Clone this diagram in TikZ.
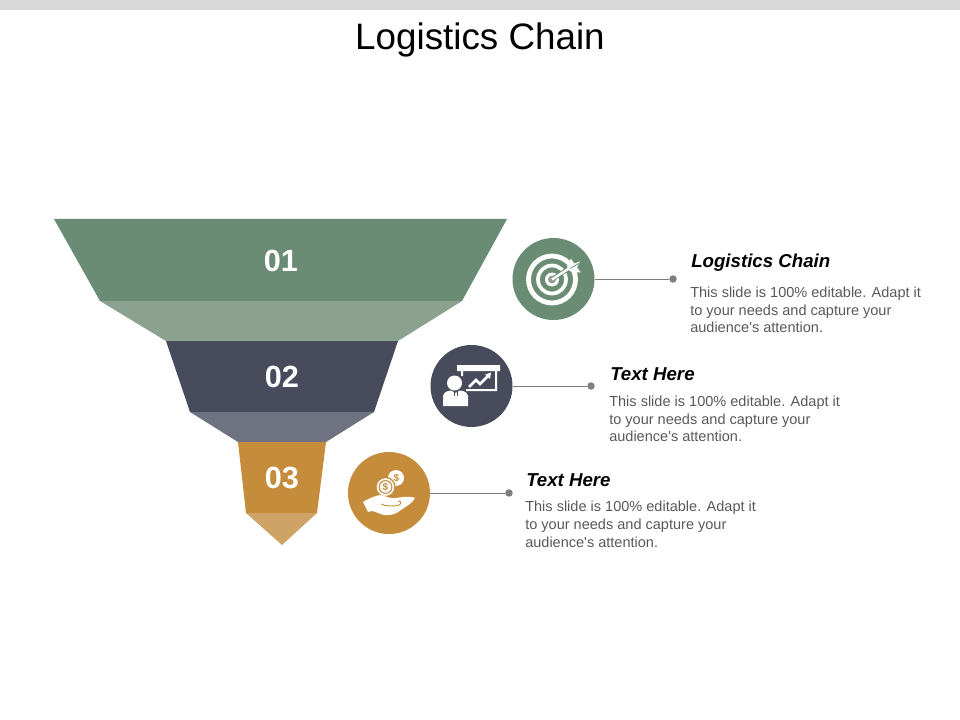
\documentclass[tikz,border=0pt]{standalone}
\usepackage{fontspec}
\setmainfont{Liberation Sans}
\newfontfamily\bodyf{Liberation Sans}
\definecolor{cgreen}{HTML}{6B8C74}
\definecolor{cgreenl}{HTML}{8AA28F}
\definecolor{cnavy}{HTML}{474B5C}
\definecolor{cnavyl}{HTML}{6F7281}
\definecolor{corange}{HTML}{C58C3B}
\definecolor{corangel}{HTML}{CFA266}
\definecolor{cbody}{HTML}{595959}
\definecolor{cline}{HTML}{7F7F7F}
\tikzset{
  numtext/.style={text=white,font=\fontsize{23}{27}\selectfont\bfseries,inner sep=0pt},
  headtext/.style={anchor=west,inner sep=0pt,font=\fontsize{14}{17}\selectfont\bfseries\itshape,text=black},
  bodytext/.style={anchor=north west,inner sep=0pt,align=left,text=cbody,font=\bodyf\fontsize{10.9}{13.2}\selectfont},
  iconcircle/.style={circle,inner sep=0pt,minimum size=61.5pt},
  enddot/.style={circle,fill=cline,inner sep=0pt,minimum size=5.6pt},
  leader/.style={draw=cline,line width=0.7pt},
}
\begin{document}
\begin{tikzpicture}[x=0.75pt,y=-0.75pt]
\useasboundingbox (0,0) rectangle (960,720);
\fill[white] (0,0) rectangle (960,720);
\fill[black!15] (0,0) rectangle (960,10);
\node[inner sep=0pt,font=\fontsize{27.6}{32}\selectfont] (title) at (480,40) {Logistics Chain};
% funnel
\fill[cgreen] (54,219)--(507,219)--(462,301)--(100,301)--cycle;
\fill[cgreenl] (100,301)--(462,301)--(398,341)--(166,341)--cycle;
\fill[cnavy] (166,341)--(398,341)--(374,412)--(190,412)--cycle;
\fill[cnavyl] (190,412)--(374,412)--(326,442)--(238,442)--cycle;
\fill[corange] (238,442)--(326,442)--(317,513)--(246,513)--cycle;
\fill[corangel] (246,513)--(317,513)--(282,545)--cycle;
\node[numtext] (n1) at (281,261) {01};
\node[numtext] (n2) at (282,377) {02};
\node[numtext] (n3) at (282,478) {03};
% circles
\node[iconcircle,fill=cgreen] (c1) at (553.5,279) {};
\node[iconcircle,fill=cnavy] (c2) at (471.5,386) {};
\node[iconcircle,fill=corange] (c3) at (389,493) {};
\node[enddot] (d1) at (673,279) {};
\node[enddot] (d2) at (591,386) {};
\node[enddot] (d3) at (509,493) {};
\draw[leader] (c1) -- (d1);
\draw[leader] (c2) -- (d2);
\draw[leader] (c3) -- (d3);
% texts
\node[headtext] (h1) at (691,263) {Logistics Chain};
\node[headtext] (h2) at (610,374) {Text Here};
\node[headtext] (h3) at (526,480) {Text Here};
\node[bodytext] (b1) at (690,287) {This slide is 100\% editable. Adapt it\\to your needs and capture your\\audience's attention.};
\node[bodytext] (b2) at (609,396) {This slide is 100\% editable. Adapt it\\to your needs and capture your\\audience's attention.};
\node[bodytext] (b3) at (525,501) {This slide is 100\% editable. Adapt it\\to your needs and capture your\\audience's attention.};
% target icon
\begin{scope}[shift={(552,279.5)}]
\draw[white,line width=3.6pt] (0,0) circle (23.5);
\draw[white,line width=2.8pt] (0,0) circle (14);
\fill[white] (0,0) circle (7);
\fill[cgreenl] (0,0) circle (4);
\draw[cgreen,line width=3.2pt] (2,-1.5) -- (20,-13);
\draw[white,line width=1.8pt] (0,0) -- (20,-13);
\fill[white] (15,-13)--(19,-21)--(22,-16)--(28,-18)--(25,-12)--(29,-7)--(21,-7)--(17,-9)--cycle;
\draw[cgreen,line width=0.6pt] (18,-11) -- (27,-16);
\end{scope}
% presenter icon
\fill[white] (457,365)--(500,365)--(500,371)--(497,371)--(497,391)--(466,391)--(466,389)--(495,389)--(495,371)--(463,371)--(463,376)--(461,376)--(461,371)--(457,371)--cycle;
\draw[white,line width=2pt,line join=miter] (469,387)--(476,380)--(480,384)--(488,376);
\fill[white] (485,374.5)--(491,372.5)--(490,379)--cycle;
\fill[white] (454.5,383) circle (7.5);
\fill[white] (443,406)--(443,396)..controls (444,392) and (447,391) .. (451,390.5)--(455.5,393)--(460,390.5)..controls (464,391) and (467,392) .. (468,396)--(468,406)--cycle;
\draw[cnavy,line width=0.7pt] (454.5,391.5)--(454.5,396);
\draw[cnavy,line width=0.7pt] (457,391.5)--(457,396);
% money icon
\fill[white] (396,478) circle (8);
\fill[corange] (385.5,487) circle (10.2);
\fill[white] (385.5,487) circle (8.8);
\draw[corange,line width=0.8pt] (385.5,487) circle (6.4);
\node[inner sep=0pt,text=corange,font=\fontsize{7.5}{8}\selectfont\bfseries] (s1) at (396.5,478) {\$};
\node[inner sep=0pt,text=corange,font=\fontsize{7.5}{8}\selectfont\bfseries] (s2) at (385.5,487) {\$};
\fill[white] (363,502)..controls (368,499) and (374,496) .. (380,495)..controls (385,495) and (387,498) .. (392,498)..controls (398,498.5) and (408,495) .. (415,498)..controls (413,503) and (405,507) .. (401,510)..controls (396,514) and (390,516) .. (384,515)..controls (379,514) and (375,511) .. (371,511)--(368,512)--cycle;
\draw[corange,line width=0.7pt] (381,504)..controls (386,506.5) and (394,506.5) .. (399,505)..controls (402,503.5) and (401,501) .. (398,501);
\end{tikzpicture}
\end{document}
